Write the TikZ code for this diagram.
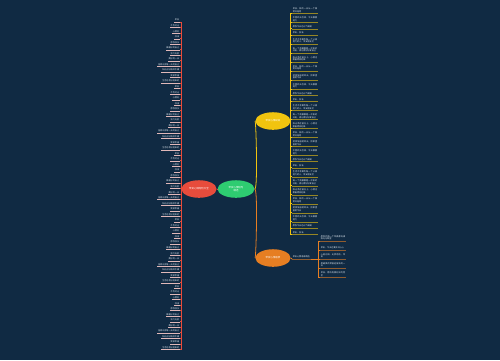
\documentclass[tikz,border=0pt]{standalone}
\usepackage{fontspec}
\newfontfamily\cjk{Noto Sans CJK SC}
\XeTeXlinebreaklocale "zh"
\XeTeXlinebreakskip=0pt plus 1pt
\usetikzlibrary{positioning, shapes.geometric}
\definecolor{mapBg}{RGB}{16,42,67}
\definecolor{mapGreen}{RGB}{46,204,113}
\definecolor{mapRed}{RGB}{231,76,60}
\definecolor{mapYellow}{RGB}{241,196,15}
\definecolor{mapOrange}{RGB}{230,126,34}
\definecolor{leafText}{RGB}{222,230,238}

\newcommand\redleaf[1]{\ifcase#1 早安\or 美好的一天\or 心情好\or 阳光正好微风不燥\or 愿你快乐\or 生活总会好起来的\or 努力向前\or 不负时光\or 温柔以待每一天的自己\or 加油\or 简单幸福\or 做最好的自己\fi}
\newcommand\yelleaf[1]{\ifcase#1 早安，新的一天从一个微笑开始吧\or 愿你今天也元气满满\or 每一个清晨都是一次新的开始，请记得好好爱自己\or 把烦恼留给昨天，把希望留给今天\or 早安，加油\or 阳光洒在窗台上，心情也跟着明亮起来\or 不管昨天怎样，今天都要努力\or 生活不会辜负每一个认真努力的人，早安朋友们\fi}

\tikzset{
  topic/.style={ellipse, inner sep=0pt, minimum width=20pt, minimum height=10pt,
                text=white, align=center, font=\cjk\fontsize{1.4}{1.8}\selectfont},
  leaf/.style={inner sep=0.3pt, text=leafText, font=\cjk\fontsize{1.2}{1.6}\selectfont},
  wire/.style={line width=0.45pt},
  under/.style={line width=0.15pt}
}

\begin{document}
\begin{tikzpicture}[x=0.02cm, y=-0.02cm]
\fill[mapBg] (0,0) rectangle (500,360);
\useasboundingbox (0,0) rectangle (500,360);

\node[topic, fill=mapGreen, minimum width=21pt] (green) at (236,189) {早安心情短句\\精选};
\node[topic, fill=mapRed] (red) at (199,189) {早安心情短句大全};
\node[topic, fill=mapYellow] (yellow) at (273,121) {早安心情说说};
\node[topic, fill=mapOrange] (orange) at (273,258) {早安心情语录};

\draw[wire, mapRed] (green) -- (red);
\draw[wire, mapYellow] (green.east) .. controls (258,189) and (256,121) .. (yellow.west);
\draw[wire, mapOrange] (green.east) .. controls (258,189) and (256,258) .. (orange.west);

% red branch
\coordinate (rhub) at (181,189);
\draw[wire, mapRed] (red.west) -- (rhub);
\foreach \i in {0,...,59} {
  \pgfmathtruncatemacro\k{mod(\i*7,12)}
  \node[leaf, anchor=south east] (r\i) at (180,{22+5.55*\i}) {\redleaf{\k}};
  \draw[wire, mapRed] (rhub) |- (r\i.south east);
  \draw[under, leafText!70!mapRed] (r\i.south east) -- (r\i.south west);
}

% yellow branch
\coordinate (yhub) at (290,121);
\draw[wire, mapYellow] (yellow.east) -- (yhub);
\node[leaf, text width=14pt, anchor=north west] (y1) at (292,7) {\yelleaf{0}};
\foreach \i [remember=\i as \prev (initially 1)] in {2,...,28} {
  \pgfmathtruncatemacro\k{mod(\i*3,8)}
  \node[leaf, text width=14pt, below=1.4pt of y\prev.south west, anchor=north west] (y\i) {\yelleaf{\k}};
}
\foreach \i in {1,...,28} {
  \draw[wire, mapYellow] (yhub) |- (y\i.south west);
  \draw[under, mapYellow!60!mapBg] (y\i.south west) -- (y\i.south east);
}

% orange branch
\node[leaf, anchor=south west] (o0) at (292,259) {早安心情语录精选};
\draw[wire, mapOrange] (orange.east) -- (o0.south west);
\draw[under, mapOrange!60!mapBg] (o0.south west) -- (o0.south east);
\coordinate (ohub) at (318,259);
\draw[wire, mapOrange] (o0.south east) -- (ohub);
\node[leaf, text width=14pt, anchor=south west] (o1) at (320,241) {愿你的每一个早晨都充满阳光与希望};
\node[leaf, text width=14pt, anchor=south west] (o2) at (320,250) {早安，今天也要开开心心};
\node[leaf, text width=14pt, anchor=south west] (o3) at (320,259) {心若向阳，无畏悲伤，早安};
\node[leaf, text width=14pt, anchor=south west] (o4) at (320,268) {用最美的笑容迎接新的一天};
\node[leaf, text width=14pt, anchor=south west] (o5) at (320,277) {早安，愿所有美好如约而至};
\foreach \i in {1,...,5} {
  \draw[wire, mapOrange] (ohub) |- (o\i.south west);
  \draw[under, mapOrange!60!mapBg] (o\i.south west) -- (o\i.south east);
}
\end{tikzpicture}
\end{document}
